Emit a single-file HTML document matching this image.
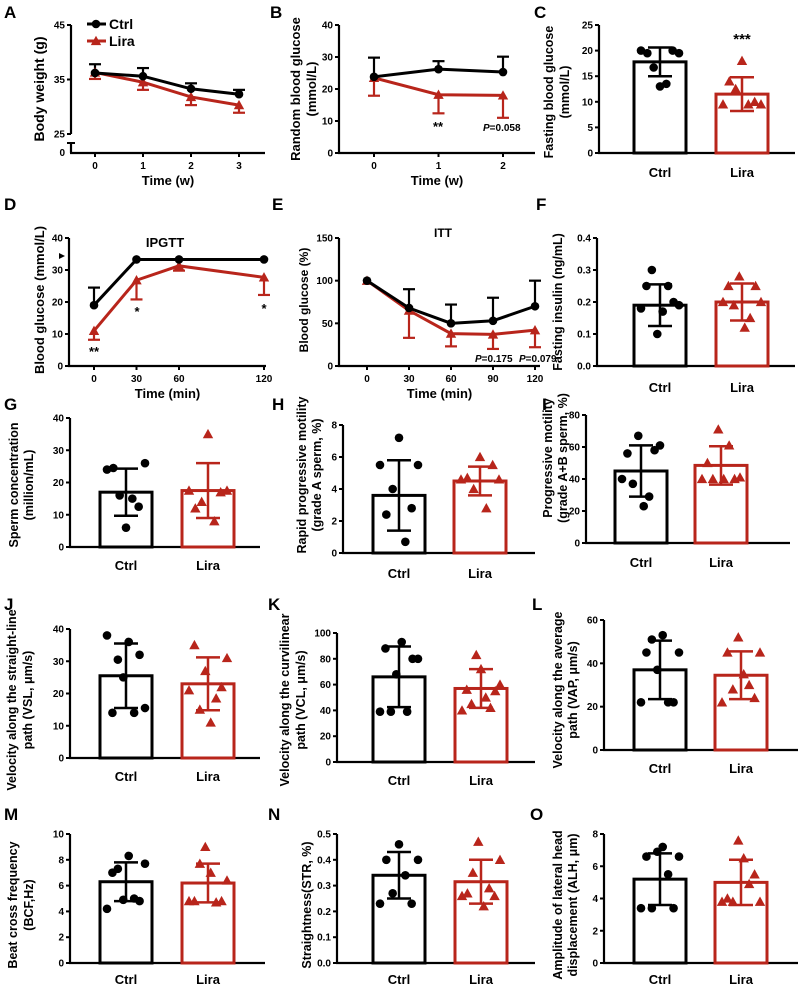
<!DOCTYPE html>
<html><head><meta charset="utf-8"><style>
html,body{margin:0;padding:0;background:#fff;}
svg{display:block;font-family:"Liberation Sans",sans-serif;font-weight:bold;}
</style></head><body>
<svg id="fig" width="800" height="987" viewBox="0 0 800 987"></svg>
<script>
// ---- data ----
const aX=[0,1,2,3];
const aCtrl=[36.2,35.6,33.3,32.3];
const aCtrlErr=[1.6,1.5,1.0,0.8];
const aLira=[36.3,34.5,31.8,30.3];
const aLiraErr=[1.2,1.4,1.5,1.4];
const bX=[0,1,2];
const bCtrl=[23.8,26.2,25.3];
const bCtrlErr=[6,2.5,4.8];
const bLira=[23.5,18.2,18.0];
const bLiraErr=[5.6,5.8,7];
const dX=[0,30,60,120];
const dCtrl=[19,33.3,33.3,33.3];
const dCtrlErr=[5.5,0,0,0];
const dLira=[11,26.8,31.3,27.7];
const dLiraErr=[2.8,6,1.5,5.5];
const eX=[0,30,60,90,120];
const eCtrl=[100,68,50,53,70];
const eCtrlErr=[0,22,22,27,30];
const eLira=[100,65,38,37,42];
const eLiraErr=[0,32,15,17,20];
const cMean=[17.8,11.5], cSd=[2.8,3.3];
const cCtrlDots=[20,19.5,16.7,13,13.5,20,19.5];
const cLiraDots=[9.5,14,12.5,18,9.5,10,9.5];
const fMean=[0.19,0.2], fSd=[0.065,0.058];
const fCtrlDots=[0.18,0.25,0.3,0.1,0.17,0.25,0.2,0.19];
const fLiraDots=[0.2,0.25,0.19,0.28,0.12,0.15,0.25,0.2];
const gMean=[17,17.5], gSd=[7.3,8.5];
const gCtrlDots=[24,24.5,16,6,15,12.5,26];
const gLiraDots=[17.5,12,14,35,8,17,17.5];
const hMean=[3.6,4.5], hSd=[2.2,0.9];
const hCtrlDots=[5.5,2.4,4,7.2,0.7,2.8,5.5];
const hLiraDots=[4.6,4.7,4,6,2.8,5.5,4.6];
const iMean=[45,48.5], iSd=[16,12];
const iCtrlDots=[40,56,37,67,23,29,58,61];
const iLiraDots=[40,50,40,71,40,61,40,41];
const jMean=[25.5,23], jSd=[10,8.2];
const jCtrlDots=[38,14,30.5,25,36,14,32,15.5];
const jLiraDots=[21,35,15,27,11,18.5,22,31];
const kMean=[66,57], kSd=[23.5,15];
const kCtrlDots=[39,88,39,68,93,39,80,80];
const kLiraDots=[40,56,45,83,72,50,42,55,60];
const lMean=[37,34.5], lSd=[13.5,11];
const lCtrlDots=[22,45,51,37,53,22,22,45];
const lLiraDots=[22,45,28,52,35,30,24,45];
const mMean=[6.3,6.2], mSd=[1.5,1.5];
const mCtrlDots=[4.2,7,7.3,4.9,8.3,5,4.8,7.7];
const mLiraDots=[4.8,4.8,7.7,9,7,4.7,4.8,6.4];
const nMean=[0.34,0.315], nSd=[0.09,0.085];
const nCtrlDots=[0.23,0.4,0.27,0.46,0.34,0.23,0.4];
const nLiraDots=[0.26,0.27,0.35,0.47,0.22,0.29,0.26,0.4];
const oMean=[5.2,5], oSd=[1.6,1.4];
const oCtrlDots=[3.4,6.6,3.4,6.9,7.2,5.5,3.4,6.6];
const oLiraDots=[3.8,4,3.8,7.6,6.5,4.9,5.5,3.8];
const categories=["Ctrl","Lira"];

const RED="#b8251b";
const svg=document.getElementById('fig');
const NS="http://www.w3.org/2000/svg";
function el(tag,attrs,parent){const e=document.createElementNS(NS,tag);for(const k in attrs)e.setAttribute(k,attrs[k]);(parent||svg).appendChild(e);return e;}
function txt(s,x,y,size,anchor,parent,extra){const t=el('text',Object.assign({x:x,y:y,'font-size':size,'text-anchor':anchor||'middle'},extra||{}),parent);t.textContent=s;return t;}
function group(name){const g=el('g',{});return g;}
function circle(x,y,g){const c=el('circle',{cx:x,cy:y,r:4.3,fill:'#000'},g);return c;}
function tri(x,y,g){const s=5.2;const p=el('polygon',{points:`${x},${y-s} ${x-s},${y+s*0.8} ${x+s},${y+s*0.8}`,fill:RED},g);return p;}
function letter(s,x,y){const t=txt(s,x,y,17,'start');}
function ytitle(lines,xs,cy,size,g){lines.forEach((l,i)=>{const t=txt(l,xs[i],cy,size,'middle',g,{transform:`rotate(-90 ${xs[i]} ${cy})`});});}

function yAxis(g,ax,y0,yTop,ys,ticks,fmt){
  const l=el('line',{x1:ax,y1:y0+1,x2:ax,y2:yTop,stroke:'#000','stroke-width':2.2},g);
  
  ticks.forEach(v=>{const y=ys(v);el('line',{x1:ax-4,y1:y,x2:ax,y2:y,stroke:'#000','stroke-width':2},g);
    const t=txt(fmt(v),ax-6,y+3.5,10,'end',g);});
}

function barPanel(o,means,sds,dotsC,dotsL){
  const g=group('panel-'+o.letter.toLowerCase());
  const ys=v=>o.y0-(v/o.max)*(o.y0-o.yTop);
  yAxis(g,o.ax,o.y0,o.yTop,ys,o.ticks,o.fmt);
  const xa=el('line',{x1:o.ax-1,y1:o.y0,x2:o.xEnd,y2:o.y0,stroke:'#000','stroke-width':2.2},g);
  
  const centers=[o.c1,o.c2],cols=['#000',RED],dots=[dotsC,dotsL];
  categories.forEach((cat,i)=>{
    const cx=centers[i],w=52,top=ys(means[i]);
    const r=el('rect',{x:cx-w/2,y:top,width:w,height:o.y0-top,fill:'none',stroke:cols[i],'stroke-width':3},g);
    
    const d=dots[i],n=d.length;
    d.forEach((v,j)=>{const x=cx-19+38*(n>1?j/(n-1):0.5);if(i==0)circle(x,ys(v),g);else tri(x,ys(v),g);});
    const eh=ys(means[i]+sds[i]),el2=ys(means[i]-sds[i]);
    const eb=el('line',{x1:cx,y1:eh,x2:cx,y2:el2,stroke:cols[i],'stroke-width':2.5},g);
    
    [eh,el2].forEach(y=>el('line',{x1:cx-12,y1:y,x2:cx+12,y2:y,stroke:cols[i],'stroke-width':2.5},g));
    const t=txt(cat,cx,o.catY,13,'middle',g);
  });
  ytitle(o.title,o.tx,o.tcy,o.tsize||12.5,g);
  letter(o.letter,o.lx,o.ly);
  return {g,ys};
}

function linePanel(o,xv,ctrl,cerr,lira,lerr){
  const g=group('panel-'+o.letter.toLowerCase());
  const xs=v=>o.x0+(v-xv[0])/(xv[xv.length-1]-xv[0])*(o.x1-o.x0);
  const ys=o.ys;
  xv.forEach(v=>{const x=xs(v);el('line',{x1:x,y1:o.y0,x2:x,y2:o.y0+4,stroke:'#000','stroke-width':2},g);
    const t=txt(String(v),x,o.y0+16,10,'middle',g);});
  const xa=el('line',{x1:o.ax-1,y1:o.y0,x2:o.xEnd,y2:o.y0,stroke:'#000','stroke-width':2.2},g);
  
  [[lira,lerr,RED,1,'lira'],[ctrl,cerr,'#000',-1,'ctrl']].forEach(([vals,err,col,dir,nm])=>{
    vals.forEach((v,i)=>{if(err[i]>0){const x=xs(xv[i]),y1=ys(v),y2=ys(v-dir*err[i]);
      el('line',{x1:x,y1:y1,x2:x,y2:y2,stroke:col,'stroke-width':2.2},g);el('line',{x1:x-6,y1:y2,x2:x+6,y2:y2,stroke:col,'stroke-width':2.2},g);}});
  });
  [[lira,RED,'lira'],[ctrl,'#000','ctrl']].forEach(([vals,col,nm])=>{
    const pts=vals.map((v,i)=>xs(xv[i])+','+ys(v)).join(' ');
    const pl=el('polyline',{points:pts,fill:'none',stroke:col,'stroke-width':3},g);
    
    vals.forEach((v,i)=>{if(nm=='ctrl')circle(xs(xv[i]),ys(v),g);else tri(xs(xv[i]),ys(v),g);});
  });
  const t=txt(o.xtitle,(o.ax+o.xEnd)/2,o.y0+32,13,'middle',g);
  ytitle(o.title,o.tx,o.tcy,o.tsize||13,g);
  letter(o.letter,o.lx,o.ly);
  return {g,xs,ys};
}

// ---- Panel A ----
(function(){
  const ys=v=>v>=25?134-(v-25)*(109/20):153;
  const p=linePanel({letter:'A',lx:4,ly:18,ax:71,y0:153,x0:95,x1:239,xEnd:265,ys,xtitle:'Time (w)',title:['Body weight (g)'],tx:[44],tcy:89,tsize:14},aX,aCtrl,aCtrlErr,aLira,aLiraErr);
  const g=p.g;
  el('line',{x1:71,y1:134,x2:71,y2:25,stroke:'#000','stroke-width':2.2},g);
  el('line',{x1:71,y1:153,x2:71,y2:143,stroke:'#000','stroke-width':2.2},g);
  [[45,'45'],[35,'35'],[25,'25']].forEach(([v,s])=>{el('line',{x1:67,y1:ys(v),x2:71,y2:ys(v),stroke:'#000','stroke-width':2},g);txt(s,65,ys(v)+3.5,10,'end',g);});
  el('line',{x1:67,y1:143,x2:75,y2:143,stroke:'#000','stroke-width':2},g);
  txt('0',65,156,10,'end',g);
  const lg=group('legend');
  el('line',{x1:87,y1:24,x2:106,y2:24,stroke:'#000','stroke-width':3},lg);circle(96,24,lg);
  const t1=txt('Ctrl',109,29,14,'start',lg);
  el('line',{x1:87,y1:41,x2:106,y2:41,stroke:RED,'stroke-width':3},lg);tri(96,41,lg);
  const t2=txt('Lira',109,46,14,'start',lg);
})();
// ---- Panel B ----
(function(){
  const ys=v=>153-v/40*128;
  const p=linePanel({letter:'B',lx:270,ly:18,ax:339,y0:153,x0:374,x1:503,xEnd:535,ys,xtitle:'Time (w)',title:['Random blood glucose','(mmol/L)'],tx:[300,316],tcy:89},bX,bCtrl,bCtrlErr,bLira,bLiraErr);
  yAxis(p.g,339,153,25,ys,[0,10,20,30,40],v=>String(v));
  txt('**',438,131,13,'middle',p.g);
  const t=txt('',483,131,10,'start',p.g);t.innerHTML='<tspan font-style="italic">P</tspan>=0.058';
})();
// ---- Panel C ----
(function(){
  const p=barPanel({letter:'C',lx:534,ly:18,ax:599,y0:153,yTop:25,max:25,ticks:[0,5,10,15,20,25],fmt:v=>String(v),xEnd:795,c1:660,c2:742,catY:177,title:['Fasting blood glucose','(mmol/L)'],tx:[553,569],tcy:92},cMean,cSd,cCtrlDots,cLiraDots);
  txt('***',742,44,15,'middle',p.g);
})();
// ---- Panel D ----
(function(){
  const ys=v=>366-v/40*128;
  const p=linePanel({letter:'D',lx:4,ly:210,ax:69,y0:366,x0:94,x1:264,xEnd:266,ys,xtitle:'Time (min)',title:['Blood glucose (mmol/L)'],tx:[44],tcy:300},dX,dCtrl,dCtrlErr,dLira,dLiraErr);
  yAxis(p.g,69,366,238,ys,[0,10,20,30,40],v=>String(v));
  txt('IPGTT',165,247,13,'middle',p.g);
  txt('**',94,356,13,'middle',p.g);txt('*',137,316,13,'middle',p.g);txt('*',264,313,13,'middle',p.g);
  el('polygon',{points:'59,253 65,256 59,259',fill:'#000'},p.g);
})();
// ---- Panel E ----
(function(){
  const ys=v=>366-v/150*128;
  const p=linePanel({letter:'E',lx:272,ly:210,ax:339,y0:366,x0:367,x1:535,xEnd:540,ys,xtitle:'Time (min)',title:['Blood glucose (%)'],tx:[308],tcy:300,tsize:12},eX,eCtrl,eCtrlErr,eLira,eLiraErr);
  yAxis(p.g,339,366,238,ys,[0,50,100,150],v=>String(v));
  txt('ITT',443,237,12,'middle',p.g);
  const t1=txt('',475,362,10,'start',p.g);t1.innerHTML='<tspan font-style="italic">P</tspan>=0.175';
  const t2=txt('',519,362,10,'start',p.g);t2.innerHTML='<tspan font-style="italic">P</tspan>=0.079';
})();
// ---- Bar panels ----
barPanel({letter:'F',lx:536,ly:210,ax:597,y0:366,yTop:238,max:0.4,ticks:[0,0.1,0.2,0.3,0.4],fmt:v=>v.toFixed(1),xEnd:795,c1:660,c2:742,catY:392,title:['Fasting insulin (ng/mL)'],tx:[562],tcy:302},fMean,fSd,fCtrlDots,fLiraDots);
barPanel({letter:'G',lx:4,ly:410,ax:70,y0:547,yTop:418,max:40,ticks:[0,10,20,30,40],fmt:v=>String(v),xEnd:260,c1:126,c2:208,catY:570,title:['Sperm concentration','(million/mL)'],tx:[18,33],tcy:485},gMean,gSd,gCtrlDots,gLiraDots);
barPanel({letter:'H',lx:272,ly:410,ax:343,y0:553,yTop:425,max:8,ticks:[0,2,4,6,8],fmt:v=>String(v),xEnd:535,c1:399,c2:480,catY:578,title:['Rapid progressive motility','(grade A sperm, %)'],tx:[306,321],tcy:475},hMean,hSd,hCtrlDots,hLiraDots);
barPanel({letter:'I',lx:542,ly:410,ax:586,y0:543,yTop:415,max:80,ticks:[0,20,40,60,80],fmt:v=>String(v),xEnd:790,c1:641,c2:721,catY:567,title:['Progressive motility','(grade A+B sperm, %)'],tx:[552,567],tcy:458},iMean,iSd,iCtrlDots,iLiraDots);
barPanel({letter:'J',lx:4,ly:610,ax:70,y0:758,yTop:629,max:40,ticks:[0,10,20,30,40],fmt:v=>String(v),xEnd:260,c1:126,c2:208,catY:781,title:['Velocity along the straight-line','path (VSL, μm/s)'],tx:[16,32],tcy:700},jMean,jSd,jCtrlDots,jLiraDots);
barPanel({letter:'K',lx:268,ly:610,ax:337,y0:762,yTop:633,max:100,ticks:[0,20,40,60,80,100],fmt:v=>String(v),xEnd:535,c1:399,c2:481,catY:785,title:['Velocity along the curvilinear','path (VCL, μm/s)'],tx:[289,305],tcy:700},kMean,kSd,kCtrlDots,kLiraDots);
barPanel({letter:'L',lx:532,ly:610,ax:604,y0:750,yTop:620,max:60,ticks:[0,20,40,60],fmt:v=>String(v),xEnd:798,c1:660,c2:741,catY:773,title:['Velocity along the average','path (VAP, μm/s)'],tx:[562,577],tcy:690},lMean,lSd,lCtrlDots,lLiraDots);
barPanel({letter:'M',lx:4,ly:820,ax:70,y0:963,yTop:834,max:10,ticks:[0,2,4,6,8,10],fmt:v=>String(v),xEnd:265,c1:126,c2:208,catY:984,title:['Beat cross frequency','(BCF,Hz)'],tx:[17,33],tcy:905},mMean,mSd,mCtrlDots,mLiraDots);
barPanel({letter:'N',lx:268,ly:820,ax:337,y0:963,yTop:834,max:0.5,ticks:[0,0.1,0.2,0.3,0.4,0.5],fmt:v=>v.toFixed(1),xEnd:535,c1:399,c2:481,catY:984,title:['Straightness(STR, %)'],tx:[311],tcy:905},nMean,nSd,nCtrlDots,nLiraDots);
barPanel({letter:'O',lx:530,ly:820,ax:604,y0:963,yTop:834,max:8,ticks:[0,2,4,6,8],fmt:v=>String(v),xEnd:798,c1:660,c2:741,catY:984,title:['Amplitude of lateral head','displacement (ALH, μm)'],tx:[562,577],tcy:905},oMean,oSd,oCtrlDots,oLiraDots);
</script>
</body></html>
